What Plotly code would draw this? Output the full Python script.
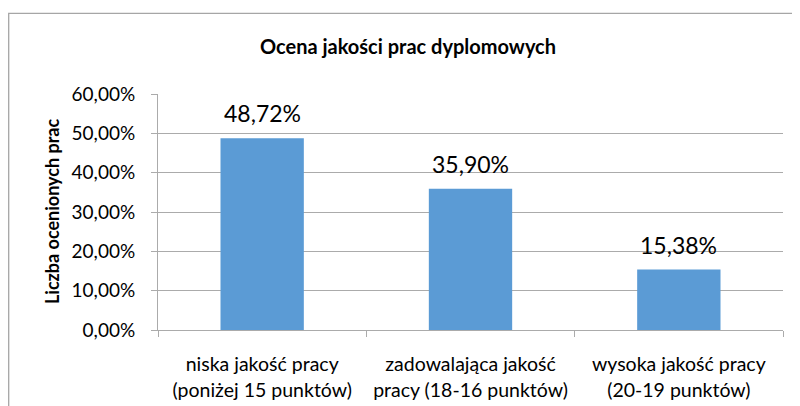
import plotly.graph_objects as go

categories = ["niska jakość pracy<br>(poniżej 15 punktów)",
              "zadowalająca jakość<br>pracy (18-16 punktów)",
              "wysoka jakość pracy<br>(20-19 punktów)"]
values = [0.4872, 0.3590, 0.1538]
y_ticks = [0, 0.1, 0.2, 0.3, 0.4, 0.5, 0.6]

FONT = "Lato"
GRID = "#ababab"

fig = go.Figure()
fig.add_trace(go.Bar(x=categories, y=values, marker=dict(color="#5B9BD5", line=dict(width=0)),
                     hoverinfo="skip"))

for c, v in zip(categories, values):
    fig.add_annotation(x=c, y=v, text=f"{v*100:.2f}%".replace(".", ","), showarrow=False,
                       yanchor="middle", yshift=25, font=dict(family=FONT, size=23, color="#000"))

# the page body has an 8px margin, so figure coordinates = screen coordinates - 8
O = 8
W, H = 800, 406
L = 158 - O
T = 94 - O
R = W - (783 - O)
B = H - (330 - O)
pw, ph = W - L - R, H - T - B

fig.add_annotation(xref="paper", yref="paper", x=(52 - O - L) / pw, y=0.5, xanchor="center",
                   yanchor="middle", text="<b>Liczba ocenionych prac</b>",
                   textangle=-90, showarrow=False, font=dict(family=FONT, size=18, color="#000"))

fig.add_shape(type="rect", xref="paper", yref="paper",
              x0=(0.7 - L) / pw, x1=(870 - L) / pw,
              y0=(H - B - 440) / ph, y1=(H - B - (13.3 - O)) / ph,
              line=dict(color="#a6a6a6", width=1.3), fillcolor="rgba(0,0,0,0)", layer="below")

fig.update_layout(
    template="none",
    width=W, height=H,
    margin=dict(l=L, r=R, t=T, b=B, autoexpand=False),
    paper_bgcolor="white", plot_bgcolor="white",
    separators=", ",
    bargap=0.6,
    showlegend=False,
    font=dict(family=FONT, color="#000"),
    title=dict(text="<b>Ocena jakości prac dyplomowych</b>", x=(408 - O) / W, xref="container",
               xanchor="center", y=1 - (47 - O) / H, yref="container", yanchor="middle",
               font=dict(family=FONT, size=20, color="#000")),
    xaxis=dict(automargin=False, showline=True, linecolor=GRID, linewidth=1, ticks="outside",
               tickson="boundaries", ticklen=6, tickcolor=GRID, tickwidth=1,
               ticklabelstandoff=17,
               tickfont=dict(family=FONT, size=19.5, color="#000"), showgrid=False, zeroline=False),
    yaxis=dict(automargin=False, range=[0, 0.6], tickvals=y_ticks, tickformat=".2%", showline=True,
               linecolor=GRID, linewidth=1, ticks="outside", ticklen=6, tickcolor=GRID, tickwidth=1,
               ticklabelstandoff=12,
               showgrid=True, gridcolor=GRID, gridwidth=1, zeroline=False,
               tickfont=dict(family=FONT, size=19, color="#000")),
)

fig.write_html("out.html")
